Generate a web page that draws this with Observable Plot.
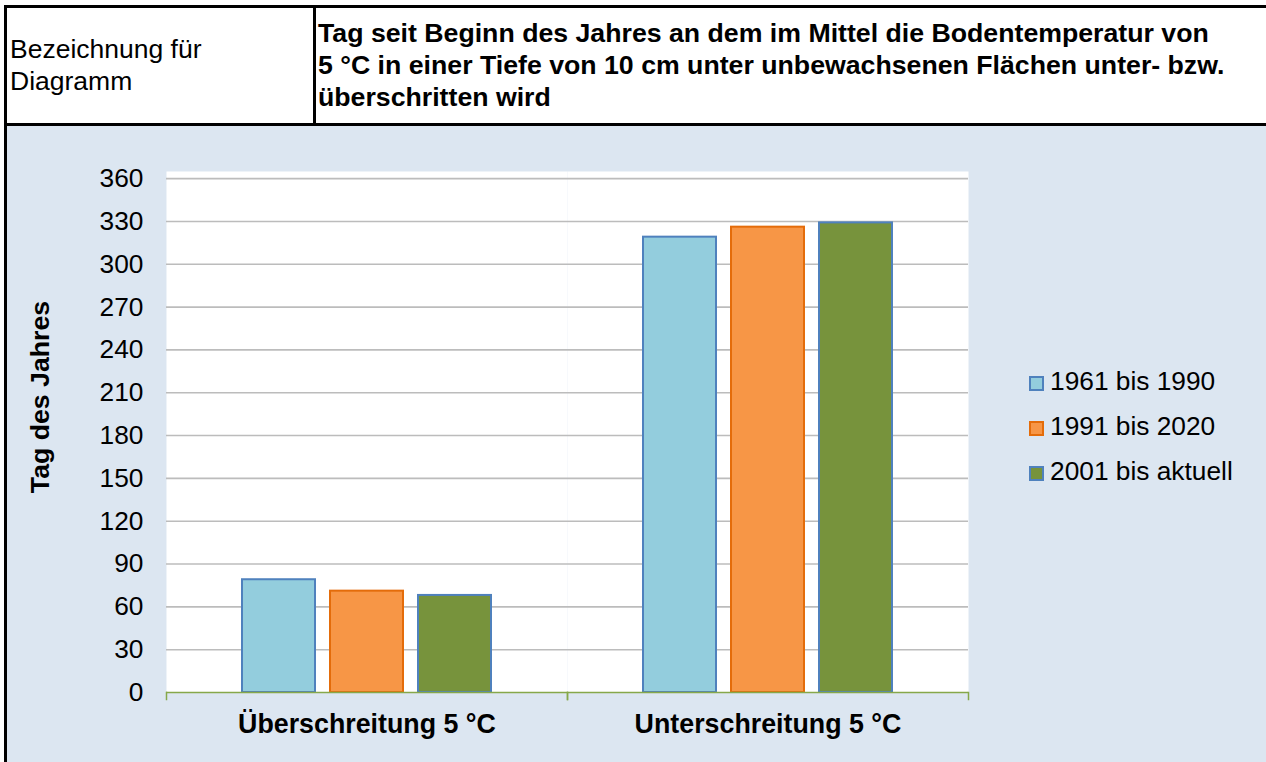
<!DOCTYPE html>
<html>
<head>
<meta charset="utf-8">
<script src="https://cdn.jsdelivr.net/npm/d3@7"></script>
<script src="https://cdn.jsdelivr.net/npm/@observablehq/plot@0.6"></script>
<style>
  html, body { margin: 0; padding: 0; width: 1266px; height: 762px; overflow: hidden; background: #ffffff; }
  body { font-family: "Liberation Sans", Arial, sans-serif; color: #000; }
  #page { position: relative; width: 1266px; height: 762px; overflow: hidden; }
  .blk { position: absolute; background: #000; }
  #chartbg { position: absolute; left: 7px; top: 126px; width: 1300px; height: 700px; background: #dce6f1; }
  .cell { position: absolute; top: 7px; height: 116px; display: flex; align-items: center; line-height: 32px; }
  #cellLeft { left: 10px; width: 300px; font-size: 26.5px; }
  #cellRight { left: 318px; width: 950px; font-weight: bold; white-space: nowrap; font-size: 26.7px; }
  #chart { position: absolute; left: 0; top: 126px; }
  #ytitle { position: absolute; left: 40px; top: 397px; transform: translate(-50%, -50%) rotate(-90deg); font-size: 26.7px; font-weight: bold; white-space: nowrap; }
  #legend { position: absolute; left: 1029px; top: 359px; font-size: 26.3px; }
  .lrow { display: flex; align-items: center; height: 45px; white-space: nowrap; }
  .lsw { width: 11px; height: 11px; border: 2px solid; margin-right: 6px; margin-top: 3px; }
</style>
</head>
<body>
<div id="page">
  <div id="chartbg"></div>
  <div class="blk" style="left:4px;top:5px;width:1300px;height:2.5px;"></div>
  <div class="blk" style="left:4px;top:5px;width:3px;height:800px;"></div>
  <div class="blk" style="left:313px;top:5px;width:2.5px;height:120px;"></div>
  <div class="blk" style="left:4px;top:123px;width:1300px;height:3px;"></div>
  <div class="cell" id="cellLeft"><div>Bezeichnung für<br>Diagramm</div></div>
  <div class="cell" id="cellRight"><div>Tag seit Beginn des Jahres an dem im Mittel die Bodentemperatur von<br>5 °C in einer Tiefe von 10 cm unter unbewachsenen Flächen unter- bzw.<br>überschritten wird</div></div>
  <div id="chart"></div>
  <div id="ytitle">Tag des Jahres</div>
  <div id="legend"></div>
</div>
<script>
// ---- data ----
const categories = ["Überschreitung 5 °C", "Unterschreitung 5 °C"];
const series = ["1961 bis 1990", "1991 bis 2020", "2001 bis aktuell"];
const values1961_1990 = [79, 319];
const values1991_2020 = [71, 326];
const values2001_aktuell = [68, 329];
const yTicks = [0, 30, 60, 90, 120, 150, 180, 210, 240, 270, 300, 330, 360];

// ---- styles ----
const fillOf = { "1961 bis 1990": "#93cddd", "1991 bis 2020": "#f79646", "2001 bis aktuell": "#77933c" };
const strokeOf = { "1961 bis 1990": "#4f81bd", "1991 bis 2020": "#e46c0a", "2001 bis aktuell": "#4f81bd" };
const axisGreen = "#86a84a";

const seriesValues = [values1961_1990, values1991_2020, values2001_aktuell];
const table = [];
series.forEach((s, i) => categories.forEach((c, j) => table.push({ category: c, series: s, value: seriesValues[i][j] })));

const chart = Plot.plot({
  width: 1266,
  height: 636,
  marginTop: 45,
  marginBottom: 70,
  marginLeft: 165,
  marginRight: 298,
  style: { fontFamily: "'Liberation Sans', Arial, sans-serif", fontSize: "26.3px", background: "transparent", color: "#000", overflow: "visible" },
  fx: { domain: categories, paddingInner: 0, paddingOuter: 0 },
  x: { domain: series, paddingInner: 0.169, paddingOuter: 0.843, axis: null },
  y: { domain: [0, 365] },
  color: { type: "identity" },
  marks: [
    Plot.frame({ fill: "#ffffff", stroke: "none" }),
    Plot.gridY(yTicks.filter(t => t > 0), { stroke: "#bcbcbc", strokeOpacity: 1, strokeWidth: 1.6 }),
    Plot.barY(table, { fx: "category", x: "series", y: "value", fill: d => fillOf[d.series], stroke: d => strokeOf[d.series], strokeWidth: 2 }),
    Plot.ruleY([0], { stroke: axisGreen, strokeWidth: 1.5 }),
    Plot.frame({ anchor: "left", stroke: axisGreen, strokeWidth: 1.5, insetTop: 521, insetBottom: -7 }),
    Plot.frame({ anchor: "right", stroke: axisGreen, strokeWidth: 1.5, insetTop: 521, insetBottom: -7 }),
    Plot.axisY(yTicks, { tickSize: 0, tickPadding: 23, label: null }),
    Plot.axisFx({ anchor: "bottom", tickSize: 0, tickPadding: 21, fontWeight: "bold", fontSize: 26.8, label: null })
  ]
});
document.getElementById("chart").appendChild(chart);

// ---- legend ----
const legend = document.getElementById("legend");
series.forEach(s => {
  const row = document.createElement("div");
  row.className = "lrow";
  const sw = document.createElement("div");
  sw.className = "lsw";
  sw.style.background = fillOf[s];
  sw.style.borderColor = strokeOf[s];
  const t = document.createElement("span");
  t.textContent = s;
  row.appendChild(sw);
  row.appendChild(t);
  legend.appendChild(row);
});
</script>
</body>
</html>
